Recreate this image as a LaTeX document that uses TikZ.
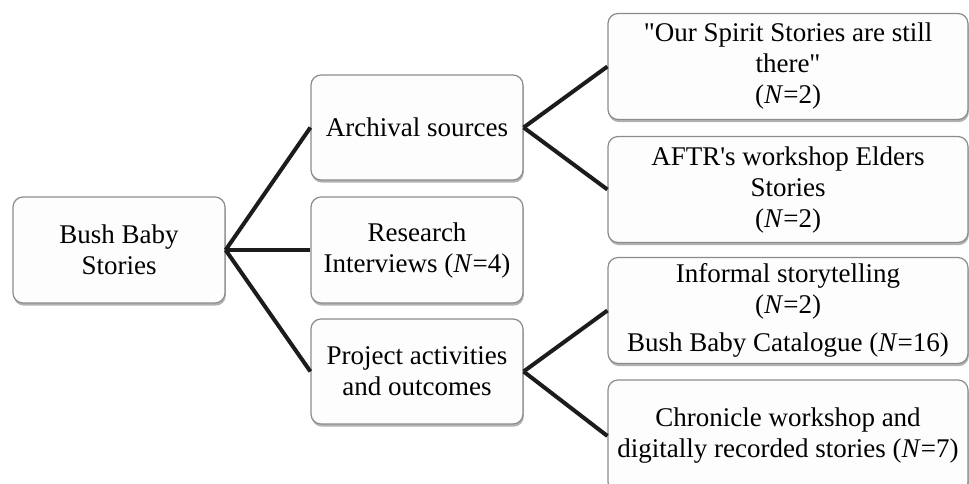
\documentclass[tikz,border=0pt]{standalone}
\usepackage{fontspec}
\setmainfont{Liberation Serif}
\usetikzlibrary{shadows}
\definecolor{BoxEdge}{RGB}{140,140,140}
\definecolor{BoxFill}{RGB}{253,253,253}
\definecolor{LinkBlack}{RGB}{28,28,28}

\begin{document}
\begin{tikzpicture}[x=.5pt,y=-.5pt,
    box/.style={draw=BoxEdge,line width=.6pt,fill=BoxFill,rounded corners=5pt,
      align=center,inner sep=0pt,minimum height=52.5pt,
      font=\fontsize{13.5}{15.5}\selectfont,
      drop shadow={shadow xshift=.4pt,shadow yshift=-1.3pt,fill=black,opacity=.3}},
    midbox/.style={box,minimum width=106pt},
    leafbox/.style={box,minimum width=180pt,minimum height=53pt},
    link/.style={draw=LinkBlack,line width=2pt}]
      \useasboundingbox (0,0) rectangle (969,483);
      \clip (0,0) rectangle (969,483);
      \node[midbox,minimum height=53pt] (root) at (119,250) {Bush Baby\\Stories};
      \node[midbox] (archive) at (417,127.5) {Archival sources};
      \node[midbox,minimum height=53pt] (interview) at (417,250) {Research\\Interviews (\textit{N}=4)};
      \node[midbox] (project) at (417,371.5) {Project activities\\and outcomes};
      \node[leafbox] (spirit) at (788,66.5)
        {\textquotedbl Our Spirit Stories are still\\there\textquotedbl\\(\textit{N}=2)};
      \node[leafbox] (elders) at (788,189.5)
        {AFTR\textquotesingle s workshop Elders\\Stories\\(\textit{N}=2)};
      \node[leafbox] (informal) at (788,310.5)
        {Informal storytelling\\(\textit{N}=2)\\[3.5pt]Bush Baby Catalogue (\textit{N}=16)};
      \node[leafbox,minimum height=56pt] (chronicle) at (788,436)
        {Chronicle workshop and\\digitally recorded stories (\textit{N}=7)};
      \foreach \kid in {archive,interview,project}
        \draw[link] (root.east)--(\kid.west);
      \foreach \kid in {spirit,elders}
        \draw[link] (archive.east)--(\kid.west);
      \foreach \kid in {informal,chronicle}
        \draw[link] (project.east)--(\kid.west);
    \end{tikzpicture}
\end{document}
